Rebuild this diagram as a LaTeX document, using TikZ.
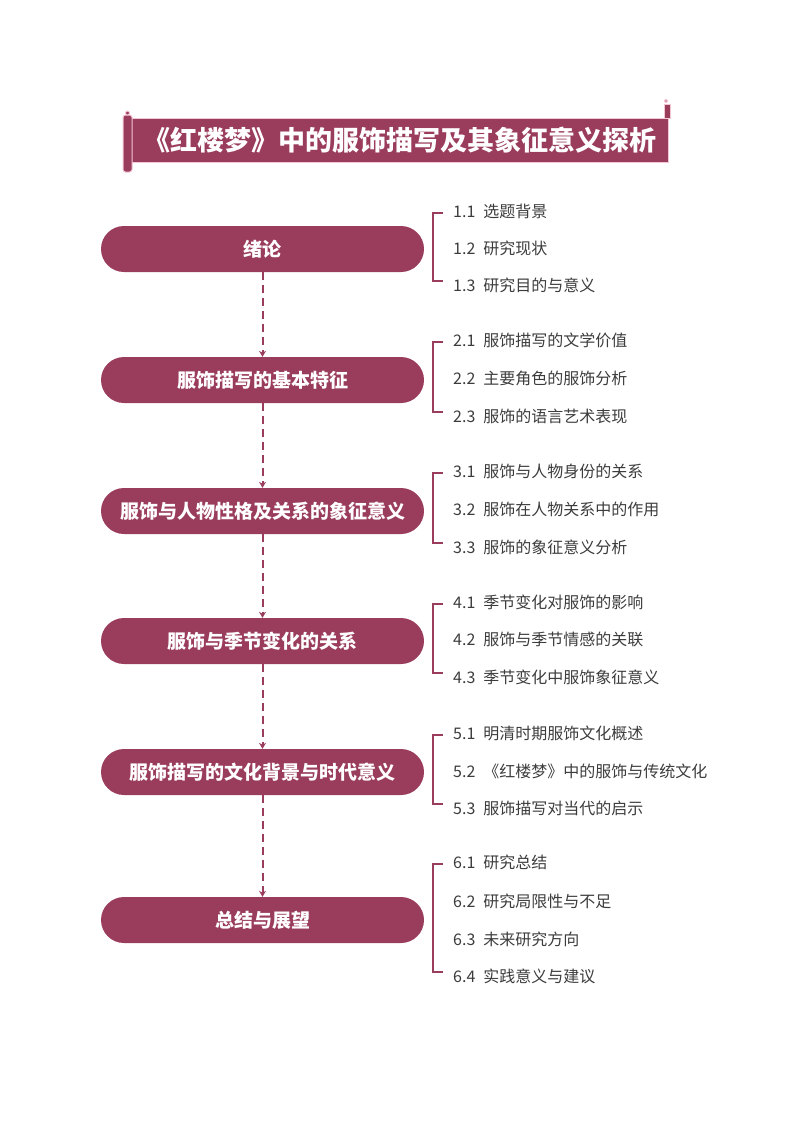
\documentclass[tikz,border=0pt]{standalone}
\usepackage{fontspec}
\setmainfont{Noto Sans CJK SC}
\usetikzlibrary{arrows.meta,calc}
\definecolor{mauve}{HTML}{9A3C5C}
\definecolor{rimpink}{HTML}{F3C6D3}
\definecolor{itemgray}{HTML}{3C3C3C}
\tikzset{
  pill/.style={fill=mauve, rounded corners=23pt, minimum width=323pt, minimum height=46pt,
    inner sep=0pt, text=white, font=\fontsize{19pt}{21pt}\selectfont\bfseries},
  item/.style={anchor=west, inner sep=0pt, text=itemgray, font=\fontsize{16pt}{18pt}\selectfont},
  flowarrow/.style={draw=mauve, line width=2pt, dash pattern=on 8pt off 5pt,
    -{Stealth[length=6pt,width=7pt]}},
  bracket/.style={draw=mauve, line width=1.8pt},
  banner/.style={fill=mauve, draw=rimpink, line width=1pt},
}
\newcommand{\itm}[2]{#1\hspace{0.5em}#2}
\begin{document}
\begin{tikzpicture}[x=1pt,y=-1pt]
\useasboundingbox (0,0) rectangle (800,1130);
% title banner
\path[banner] (128,118) rectangle (668,162);
\path[banner] (664,104) rectangle (670,118);
\path[banner] (666,101) circle (1.6pt);
\path[banner, rounded corners=2.5pt] (123,115) rectangle (132,172);
\path[banner] (127.5,113) circle (2pt);
\node[text=white, font=\fontsize{27pt}{29pt}\selectfont\bfseries] (title) at (400,140) {《红楼梦》中的服饰描写及其象征意义探析};
% main pills
\node[pill] (p1) at (262.5,249) {绪论};
\node[pill] (p2) at (262.5,380) {服饰描写的基本特征};
\node[pill] (p3) at (262.5,511) {服饰与人物性格及关系的象征意义};
\node[pill] (p4) at (262.5,641) {服饰与季节变化的关系};
\node[pill] (p5) at (262.5,772) {服饰描写的文化背景与时代意义};
\node[pill] (p6) at (262.5,920) {总结与展望};
\draw[flowarrow] (p1.south) -- (p2.north);
\draw[flowarrow] (p2.south) -- (p3.north);
\draw[flowarrow] (p3.south) -- (p4.north);
\draw[flowarrow] (p4.south) -- (p5.north);
\draw[flowarrow] (p5.south) -- (p6.north);
% items
\node[item] (i11) at (453,211) {\itm{1.1}{选题背景}};
\node[item] (i12) at (453,248) {\itm{1.2}{研究现状}};
\node[item] (i13) at (453,285) {\itm{1.3}{研究目的与意义}};
\node[item] (i21) at (453,340) {\itm{2.1}{服饰描写的文学价值}};
\node[item] (i22) at (453,378) {\itm{2.2}{主要角色的服饰分析}};
\node[item] (i23) at (453,416) {\itm{2.3}{服饰的语言艺术表现}};
\node[item] (i31) at (453,471) {\itm{3.1}{服饰与人物身份的关系}};
\node[item] (i32) at (453,509) {\itm{3.2}{服饰在人物关系中的作用}};
\node[item] (i33) at (453,547) {\itm{3.3}{服饰的象征意义分析}};
\node[item] (i41) at (453,602) {\itm{4.1}{季节变化对服饰的影响}};
\node[item] (i42) at (453,639) {\itm{4.2}{服饰与季节情感的关联}};
\node[item] (i43) at (453,677) {\itm{4.3}{季节变化中服饰象征意义}};
\node[item] (i51) at (453,733) {\itm{5.1}{明清时期服饰文化概述}};
\node[item] (i52) at (453,771) {\itm{5.2}{《红楼梦》中的服饰与传统文化}};
\node[item] (i53) at (453,808) {\itm{5.3}{服饰描写对当代的启示}};
\node[item] (i61) at (453,862) {\itm{6.1}{研究总结}};
\node[item] (i62) at (453,901) {\itm{6.2}{研究局限性与不足}};
\node[item] (i63) at (453,939) {\itm{6.3}{未来研究方向}};
\node[item] (i64) at (453,976) {\itm{6.4}{实践意义与建议}};
% brackets
\foreach \a/\b in {i11/i13, i21/i23, i31/i33, i41/i43, i51/i53, i61/i64}{
  \draw[bracket] ([xshift=-10pt,yshift=-2pt]\a.west) -| ([xshift=-20pt,yshift=4pt]\b.west) -- ([xshift=-10pt,yshift=4pt]\b.west);
}
\end{tikzpicture}
\end{document}
